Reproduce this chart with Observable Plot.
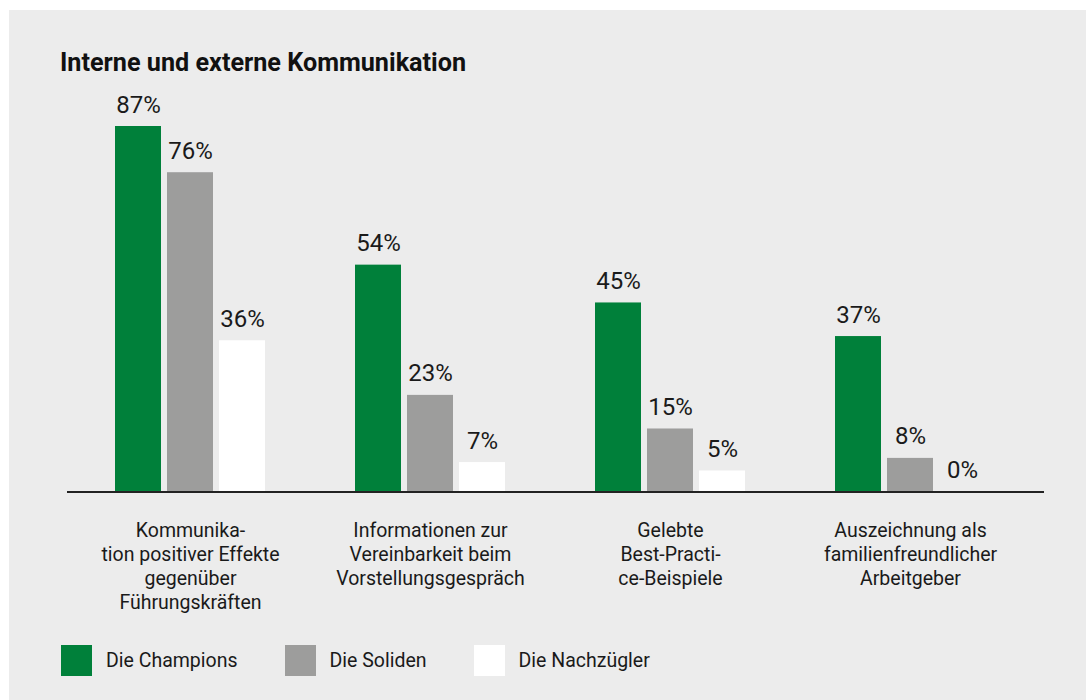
<!DOCTYPE html>
<html><head><meta charset="utf-8">
<script src="https://cdn.jsdelivr.net/npm/d3@7"></script>
<script src="https://cdn.jsdelivr.net/npm/@observablehq/plot@0.6"></script>
<style>
html,body{margin:0;padding:0;background:#fff;}
body{width:1086px;height:700px;position:relative;overflow:hidden;font-family:Roboto,sans-serif;color:#1a1a1a;}
#panel{position:absolute;left:9px;top:10px;width:1077px;height:690px;background:#ececec;}
#title{position:absolute;left:60px;top:50px;font-weight:700;font-size:25.2px;line-height:25px;color:#111;white-space:nowrap;}
#chart{position:absolute;left:0;top:80px;}
#legend{position:absolute;left:61px;top:645px;display:flex;align-items:center;font-size:19.5px;line-height:31px;}
.item{display:flex;align-items:center;margin-right:47px;}
.sw{width:31px;height:31px;margin-right:14px;}
</style></head>
<body>
<div id="panel"></div>
<div id="title">Interne und externe Kommunikation</div>
<div id="chart"></div>
<div id="legend"></div>
<script>
const categories = ["Kommunikation positiver Effekte gegenüber Führungskräften", "Informationen zur Vereinbarkeit beim Vorstellungsgespräch", "Gelebte Best-Practice-Beispiele", "Auszeichnung als familienfreundlicher Arbeitgeber"];
const categoryLabels = ["Kommunika-\ntion positiver Effekte\ngegenüber\nFührungskräften", "Informationen zur\nVereinbarkeit beim\nVorstellungsgespräch", "Gelebte\nBest-Practi-\nce-Beispiele", "Auszeichnung als\nfamilienfreundlicher\nArbeitgeber"];
const series = ["Die Champions", "Die Soliden", "Die Nachzügler"];
const champions = [87, 54, 45, 37];
const soliden = [76, 23, 15, 8];
const nachzuegler = [36, 7, 5, 0];
const colors = ["#00803a", "#9d9d9c", "#ffffff"];

const seriesValues = [champions, soliden, nachzuegler];
const rows = categories.flatMap((c, i) => series.map((s, j) => ({category: c, series: s, value: seriesValues[j][i]})));
const labelMap = new Map(categories.map((c, i) => [c, categoryLabels[i]]));

const chart = Plot.plot({
  width: 1086, height: 540,
  marginLeft: 70, marginRight: 56, marginTop: 33.4, marginBottom: 128.5,
  style: {background: "transparent", fontFamily: "Roboto, sans-serif", color: "#1a1a1a", overflow: "visible"},
  fx: {domain: categories, padding: 0, label: null},
  x: {domain: series, paddingInner: 6/52, paddingOuter: 0.865, axis: null},
  y: {domain: [0, 90], axis: null},
  color: {domain: series, range: colors},
  marks: [
    Plot.barY(rows, {fx: "category", x: "series", y: "value", fill: "series", insetBottom: -1}),
    Plot.text(rows, {fx: "category", x: "series", y: "value", text: d => d.value + "%", lineAnchor: "bottom", dy: -14, fontSize: 24, fill: "#1a1a1a"}),
    Plot.ruleY([0], {facet: false, stroke: "#222", strokeWidth: 2, insetLeft: -3, insetRight: -14, shapeRendering: "crispEdges"}),
    Plot.axisFx({anchor: "bottom", tickSize: 0, tickPadding: 28, tickFormat: d => labelMap.get(d), fontSize: 19.5, lineHeight: 1.23, label: null, fill: "#1a1a1a"})
  ]
});
document.getElementById("chart").append(chart);

const legend = document.getElementById("legend");
series.forEach((s, i) => {
  const it = document.createElement("div");
  it.className = "item";
  const sw = document.createElement("div");
  sw.className = "sw";
  sw.style.background = colors[i];
  const t = document.createElement("span");
  t.textContent = s;
  it.append(sw, t);
  legend.append(it);
});
</script>
</body></html>
